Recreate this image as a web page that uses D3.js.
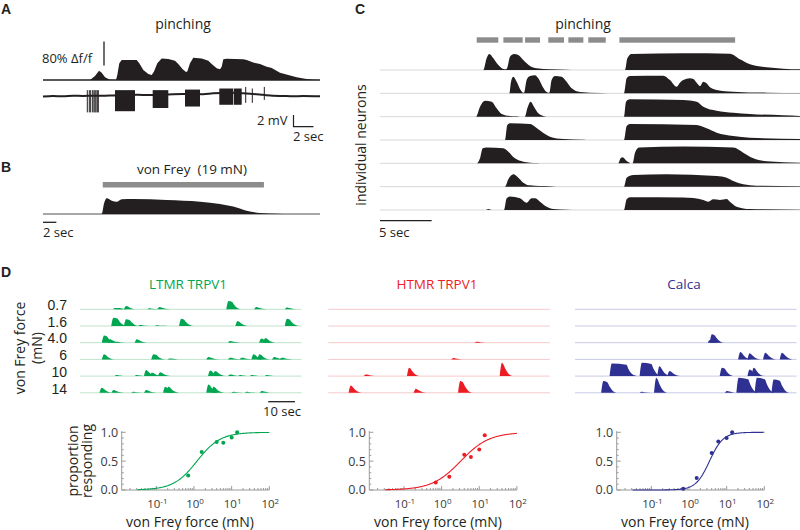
<!DOCTYPE html>
<html><head><meta charset="utf-8">
<script src="https://cdn.jsdelivr.net/npm/d3@7"></script>
<style>body{margin:0;background:#fff}svg text{font-family:'Open Sans',sans-serif;fill:#231f20}</style>
</head><body><svg id="c" width="800" height="530"></svg>
<script>
// ---------------- DATA ----------------
// Panel A: calcium trace [time s, %Δf/f]
const aCalcium = [[0,0],[4.7,0],[5.2,13],[5.6,31],[5.87,24],[6.2,9],[6.7,1],[7.3,0],[7.43,17],[7.63,56],[7.87,67],[9.37,67],[9.63,56],[10.03,33],[10.53,20],[10.87,17],[11.1,28],[11.43,56],[11.87,72],[12.53,70],[13.2,64],[13.53,53],[13.97,36],[14.3,27],[14.43,28],[14.7,56],[15.03,74],[15.87,72],[16.53,64],[16.87,53],[17.37,39],[17.7,36],[17.87,44],[18.03,69],[18.37,71],[20.03,69],[20.37,67],[21.03,58],[21.7,53],[22.37,44],[22.7,42],[22.87,40],[23.7,24],[24.53,17],[25.37,9],[26.2,4],[27.03,1],[27.7,0]];
// Panel A: membrane potential baseline [time s, mV]
const aVoltage = [[0,-0.1],[1,0],[2,-0.05],[3,0.05],[4,0],[5,0.05],[6,0.05],[7,0.1],[9.5,0.2],[10.5,0.15],[12,0.2],[13,0.3],[14,0.35],[16,0.3],[17,0.45],[19,0.55],[20,0.45],[21,0.35],[22,0.2],[23,0.05],[24,0],[25,-0.05],[26,0],[27.7,-0.05]];
// Panel A: spike bursts [start s, end s, top mV, bottom mV]
const aBursts = [[7.2,9.2,1.0,-2.6],[10.97,12.53,1.0,-2.05],[14.2,15.7,1.1,-1.8],[17.63,19.03,1.28,-1.5],[19.1,19.87,1.28,-1.5]];
// Panel A: single spikes [time s, top mV, bottom mV]
const aSpikes = [[4.43,1.0,-2.8],[4.63,1.0,-2.8],[4.77,1.0,-2.8],[4.97,1.0,-2.8],[5.1,1.0,-2.8],[5.2,1.0,-2.8],[5.3,1.0,-2.8],[5.43,1.0,-2.8],[5.53,1.0,-2.8],[20.27,1.55,-1.17],[20.93,1.28,-1.17],[22.13,1.55,-0.67]];

// Panel B: von Frey 19 mN response [time s, normalized]
const bTrace = [[0,0],[8.8,0],[9.15,0.68],[9.55,1.0],[10.3,0.85],[11.05,0.78],[11.8,0.94],[13.54,0.96],[18.55,0.89],[23.54,0.78],[26.5,0.64],[28.5,0.47],[30.5,0.21],[32.5,0.06],[35,0.02],[37,0],[41.5,0]];
const bStimulus = [8.95, 33.1];

// Panel C: pinching epochs [start s, end s]
const cStimuli = [[9.36,11.45],[11.94,13.81],[14.04,15.49],[16.29,17.81],[18.23,19.68],[20.16,21.85],[23.17,34.37]];
// Panel C: individual neuron traces [time s, normalized]
const cNeurons = [
 [[0,0],[10.0,0],[10.32,0.7],[10.58,0.96],[10.97,0.7],[11.45,0.3],[11.94,0.06],[12.19,0.04],[12.35,0.2],[12.58,0.8],[12.97,0.96],[13.39,0.9],[13.87,0.6],[14.52,0.24],[15.16,0.1],[16.45,0.04],[18.06,0.02],[19,0],[23.71,0],[23.94,0.7],[24.35,0.96],[29.35,1.0],[33.87,0.98],[34.84,0.64],[35.81,0.34],[37.42,0.16],[39.03,0.08],[40.65,0.04]],
 [[0,0],[12.52,0],[12.68,0.7],[12.9,1.0],[13.23,0.7],[13.61,0.2],[13.87,0.04],[13.94,0.04],[14.19,0.8],[14.52,1.04],[15.0,1.08],[15.32,0.9],[15.74,0.4],[16.13,0.08],[16.29,0.04],[16.39,0.04],[16.61,0.8],[16.94,1.04],[17.58,1.0],[18.06,0.7],[18.55,0.3],[19.35,0.08],[21.29,0.02],[22.9,0],[23.61,0],[23.87,0.9],[24.19,1.04],[27.42,1.06],[28.06,0.8],[28.71,0.4],[29.03,0.64],[29.35,0.8],[30.0,0.9],[30.32,0.86],[30.65,0.64],[30.97,0.44],[31.29,0.7],[31.61,0.6],[31.94,0.36],[32.58,0.2],[34.19,0.1],[37.42,0.04],[40.65,0.02]],
 [[0,0],[9.29,0],[9.68,0.6],[10.16,0.96],[10.81,0.9],[11.29,0.5],[11.77,0.16],[12.58,0.04],[13.23,0.02],[13.55,0],[14.03,0],[14.26,0.5],[14.58,0.9],[14.9,0.6],[15.32,0.2],[15.81,0.04],[16.13,0],[23.61,0],[23.81,0.9],[24.19,1.04],[29.35,1.0],[30.65,0.9],[31.29,0.6],[32.58,0.36],[34.19,0.24],[35.81,0.16],[39.03,0.08],[40.65,0.04]],
 [[0,0],[12.1,0],[12.32,0.9],[12.58,1.0],[14.52,0.96],[15.0,0.8],[15.65,0.5],[16.45,0.2],[17.74,0.06],[19.68,0.02],[20.32,0],[23.61,0],[23.87,0.84],[24.19,0.96],[30.65,0.9],[31.61,0.7],[32.58,0.44],[34.19,0.24],[35.81,0.14],[40.65,0.06]],
 [[0,0],[9.35,0],[9.68,0.3],[9.94,0.9],[10.32,0.94],[11.94,0.9],[12.42,0.7],[13.06,0.3],[13.87,0.1],[15.16,0.02],[15.81,0],[23.06,0],[23.29,0.3],[23.48,0.36],[23.87,0.14],[24.35,0],[24.45,0],[24.68,0.64],[25.1,0.94],[29.35,1.0],[34.19,0.94],[35.16,0.64],[36.13,0.3],[37.42,0.12],[40.65,0.04]],
 [[0,0],[12.1,0],[12.42,0.44],[12.9,0.74],[13.39,0.54],[13.87,0.24],[14.52,0.08],[16.45,0.02],[17.1,0],[23.61,0],[23.87,0.54],[24.52,0.7],[27.74,0.74],[32.58,0.64],[33.55,0.54],[34.19,0.34],[35.16,0.14],[36.45,0.06],[40.65,0.02]],
 [[0,0],[10.26,0],[10.48,0.06],[10.81,0],[12.0,0],[12.26,0.7],[12.58,0.8],[13.55,0.7],[14.19,0.44],[14.68,0.7],[15.0,0.7],[15.48,0.5],[16.13,0.2],[16.77,0.06],[18.06,0.02],[19.03,0],[23.61,0],[23.87,0.64],[24.19,0.76],[29.35,0.74],[31.29,0.6],[31.77,0.5],[32.26,0.64],[32.9,0.6],[33.55,0.66],[33.87,0.5],[34.52,0.2],[35.81,0.06],[40.65,0.02]]
];

// Panel D: von Frey forces (mN)
const forces = [0.7, 1.6, 4.0, 6, 10, 14];
const forceLabels = ["0.7", "1.6", "4.0", "6", "10", "14"];
const groups = ["LTMR TRPV1", "HTMR TRPV1", "Calca"];
// Panel D: response events per force row [peak time s, amplitude Δf/f, plateau s]
const ltmrEvents = [
 [[13.1,0.15],[14.4,0.15],[17.25,0.37],[26,0.11],[29.75,0.26],[55.6,0.93,0.8],[66,0.26],[77.5,0.19]],
 [[12.5,0.93,1],[17.25,0.74,0.8],[22.5,0.11],[28.75,0.07],[37.9,0.81,0.5],[59,0.56],[77.5,0.81,0.5]],
 [[9,0.81,0.5],[11.25,0.37],[13.75,0.11],[21.25,0.37],[56.25,0.19],[67.9,0.48],[69.4,0.52]],
 [[9,0.56],[27.5,0.56,0.5],[33.75,0.11],[48.1,0.26],[56.25,0.19],[60.6,0.19],[65,0.56],[67.25,0.56],[72.75,0.26],[75.6,0.19]],
 [[13.75,0.11],[21.25,0.11],[24.75,0.67],[26.9,0.37],[30,0.44],[48.75,0.63],[50.6,0.56],[56.25,0.19],[60,0.11],[64.4,0.11],[70,0.11]],
 [[8.1,0.56],[12.5,0.3],[20,0.11],[24.75,0.3],[31.9,0.67],[33.1,0.67],[48.1,0.93],[50,0.67],[57.5,0.11],[62.5,0.11],[68.1,0.19]]
];
const htmrEvents = [
 [], [], [[55.6,0.11]], [[46.9,0.15]],
 [[14.1,0.19],[30.25,0.93],[65,1.48]],
 [[8.4,0.81],[32.75,0.44],[49.4,1.3,0.5]]
];
const calcaEvents = [
 [], [], [[50.5,0.3],[51.25,0.93,0.5]],
 [[61.9,0.81],[65.4,0.67],[71.25,0.74],[77.5,0.74]],
 [[13.75,1.4,5],[20,0.37],[25,1.48,3.1],[31.6,1.1],[35.4,0.56],[55,0.93,0.5],[65.4,0.74],[66.9,0.93]],
 [[10.6,1.3,1],[25,0.11],[30.4,1.67],[56.9,0.19],[61.25,1.67,3.1],[68.1,1.67,2.5],[74.4,1.48,1.8]]
];
// Panel D: proportion responding per force
const ltmrProportion = [0.25, 0.66, 0.83, 0.82, 0.91, 1.0];
const htmrProportion = [0.13, 0.23, 0.61, 0.57, 0.70, 0.95];
const calcaProportion = [0.02, 0.21, 0.64, 0.84, 0.90, 1.0];
// Hill fits [EC50 mN, Hill coefficient]
const ltmrFit = [1.2, 1.4];
const htmrFit = [3.2, 1.15];
const calcaFit = [3.5, 2.4];
const xTickExps = [-1, 0, 1, 2];
const yTicks = [0, 0.5, 1];

// ---------------- DRAWING ----------------
const svg = d3.select('#c');
const INK = '#231f20';
const GRAYBAR = '#8c8c8c';
const txt = (x, y, s, o = {}) => svg.append('text').attr('x', x).attr('y', y)
  .attr('font-size', o.size || 14).attr('font-weight', o.bold ? 700 : 400)
  .attr('text-anchor', o.anchor || 'start').style('fill', o.color || INK)
  .style('font-family', o.family || null).text(s);
const LETTER = {bold: true, size: 14, family: "'Liberation Sans', Arial, sans-serif"};

// ---- Panel A ----
txt(1, 13.5, 'A', LETTER);
txt(183, 29, 'pinching', {anchor: 'middle'});
const xA = d3.scaleLinear().domain([0, 27.7]).range([43, 320]);
const yCa = d3.scaleLinear().domain([0, 80]).range([80, 56]);
const yV = d3.scaleLinear().domain([0, 2]).range([96, 84.3]);
svg.append('path').datum(aCalcium)
  .attr('d', d3.area().x(d => xA(d[0])).y0(yCa(0)).y1(d => yCa(d[1])))
  .attr('fill', INK);
svg.append('line').attr('x1', xA(0)).attr('x2', xA(27.7)).attr('y1', yCa(0)).attr('y2', yCa(0))
  .attr('stroke', INK).attr('stroke-width', 1.6);
// 80% scale bar
svg.append('line').attr('x1', 104).attr('x2', 104).attr('y1', 65.5).attr('y2', 65.5 - (yCa(0) - yCa(80)))
  .attr('stroke', INK).attr('stroke-width', 1.3);
txt(42, 63, '80% Δf/f', {size: 13});
// voltage
svg.append('path').datum(aVoltage)
  .attr('d', d3.line().x(d => xA(d[0])).y(d => yV(d[1])).curve(d3.curveMonotoneX))
  .attr('fill', 'none').attr('stroke', INK).attr('stroke-width', 2);
svg.selectAll('.burst').data(aBursts).enter().append('rect')
  .attr('x', d => xA(d[0])).attr('width', d => xA(d[1]) - xA(d[0]))
  .attr('y', d => yV(d[2])).attr('height', d => yV(d[3]) - yV(d[2])).attr('fill', INK);
svg.selectAll('.spk').data(aSpikes).enter().append('line')
  .attr('x1', d => xA(d[0])).attr('x2', d => xA(d[0]))
  .attr('y1', d => yV(d[1])).attr('y2', d => yV(d[2])).attr('stroke', INK).attr('stroke-width', 1);
// scale bar 2 mV / 2 sec
{
  const bx = 293.5, by = 126.7;
  svg.append('path').attr('d', `M${bx},${by - (yV(0) - yV(2))}V${by}H${bx + xA(2) - xA(0)}`)
    .attr('fill', 'none').attr('stroke', INK).attr('stroke-width', 1.2);
  txt(257, 125, '2 mV', {size: 13});
  txt(293, 141, '2 sec', {size: 13});
}

// ---- Panel B ----
txt(1, 172, 'B', LETTER);
txt(192, 174, 'von Frey\u00a0 (19 mN)', {anchor: 'middle', size: 13.5});
const xB = d3.scaleLinear().domain([0, 41.5]).range([43, 320]);
const yB = d3.scaleLinear().domain([0, 1]).range([214, 198.3]);
svg.append('rect').attr('x', xB(bStimulus[0])).attr('width', xB(bStimulus[1]) - xB(bStimulus[0]))
  .attr('y', 182).attr('height', 5.5).attr('fill', GRAYBAR);
svg.append('path').datum(bTrace)
  .attr('d', d3.area().x(d => xB(d[0])).y0(yB(0)).y1(d => yB(d[1])).curve(d3.curveMonotoneX))
  .attr('fill', INK);
svg.append('line').attr('x1', xB(0)).attr('x2', xB(41.5)).attr('y1', yB(0)).attr('y2', yB(0))
  .attr('stroke', INK).attr('stroke-width', 0.8);
svg.append('line').attr('x1', xB(0)).attr('x2', xB(2)).attr('y1', 222.3).attr('y2', 222.3)
  .attr('stroke', INK).attr('stroke-width', 1.3);
txt(43, 237, '2 sec', {size: 13});

// ---- Panel C ----
txt(355, 13.5, 'C', LETTER);
txt(583, 29, 'pinching', {anchor: 'middle'});
const xC = d3.scaleLinear().domain([0, 40.65]).range([380, 800]);
svg.selectAll('.cstim').data(cStimuli).enter().append('rect')
  .attr('x', d => xC(d[0])).attr('width', d => xC(d[1]) - xC(d[0]))
  .attr('y', 37.3).attr('height', 5.4).attr('fill', GRAYBAR);
cNeurons.forEach((trace, i) => {
  const base = 70 + i * 23.33;
  const yC = d3.scaleLinear().domain([0, 1]).range([base, base - 16.7]);
  svg.append('line').attr('x1', xC(0)).attr('x2', xC(40.65)).attr('y1', base).attr('y2', base)
    .attr('stroke', '#d8d8d8').attr('stroke-width', 1);
  svg.append('path').datum(trace)
    .attr('d', d3.area().x(d => xC(d[0])).y0(yC(0)).y1(d => yC(d[1])).curve(d3.curveMonotoneX))
    .attr('fill', INK);
});
svg.append('text').attr('transform', 'translate(366,145) rotate(-90)').attr('text-anchor', 'middle')
  .attr('font-size', 14).text('individual neurons');
svg.append('line').attr('x1', xC(0)).attr('x2', xC(5)).attr('y1', 220.7).attr('y2', 220.7)
  .attr('stroke', INK).attr('stroke-width', 1.3);
txt(379, 237, '5 sec', {size: 13});

// ---- Panel D traces ----
txt(1, 277, 'D', LETTER);
const dColors = ['#00a651', '#ed1c24', '#2e3192'];
const dBaseColors = ['#bfe3cc', '#f6c9cb', '#c9cae6'];
const dStarts = [80, 328.3, 575];
const dCenters = [188, 437, 684];
const dEvents = [ltmrEvents, htmrEvents, calcaEvents];
groups.forEach((g, k) => txt(dCenters[k], 289, g, {anchor: 'middle', color: dColors[k], size: 13.5}));
forceLabels.forEach((f, i) => txt(67, 310 + i * 16.7, f, {anchor: 'end', size: 14, family: "'Liberation Sans', Arial, sans-serif"}));
svg.append('text').attr('transform', 'translate(25,348) rotate(-90)').attr('text-anchor', 'middle')
  .attr('font-size', 14).text('von Frey force');
svg.append('text').attr('transform', 'translate(42,348) rotate(-90)').attr('text-anchor', 'middle')
  .attr('font-size', 14).text('(mN)');
const peakArea = d3.area().curve(d3.curveMonotoneX);
dEvents.forEach((rows, k) => {
  const xD = d3.scaleLinear().domain([0, 83]).range([dStarts[k], dStarts[k] + 221.6]);
  rows.forEach((evs, i) => {
    const base = 309.3 + i * 16.7;
    const yD = d3.scaleLinear().domain([0, 1]).range([base, base - 9]);
    svg.append('line').attr('x1', xD(0)).attr('x2', xD(83)).attr('y1', base).attr('y2', base)
      .attr('stroke', dBaseColors[k]).attr('stroke-width', 1);
    evs.forEach(e => {
      const [t, a, p = 0] = e;
      const pts = [[t - 0.8, 0], [t - 0.3, a * 0.8], [t, a], [t + p + 0.5, a * 0.9], [t + p + 1.3, a * 0.55], [t + p + 2.4, a * 0.2], [t + p + 4, 0]];
      svg.append('path').datum(pts)
        .attr('d', peakArea.x(d => xD(d[0])).y0(yD(0)).y1(d => yD(d[1])))
        .attr('fill', dColors[k]);
    });
  });
  if (k === 0) {
    svg.append('line').attr('x1', xD(70.5)).attr('x2', xD(80.5)).attr('y1', 401.7).attr('y2', 401.7)
      .attr('stroke', INK).attr('stroke-width', 1.3);
    txt(263, 416, '10 sec', {size: 13});
  }
});

// ---- Panel D dose-response ----
const fitAxes = [121.7, 369.3, 616.7];
const props = [ltmrProportion, htmrProportion, calcaProportion];
const fits = [ltmrFit, htmrFit, calcaFit];
const yP = d3.scaleLinear().domain([0, 1]).range([490, 432.3]);
props.forEach((vals, k) => {
  const x0 = fitAxes[k];
  const xP = d3.scaleLog().domain([0.012, 100]).range([x0, x0 + 147.6]);
  const g = svg.append('g');
  g.append('line').attr('x1', x0).attr('x2', x0).attr('y1', yP(0)).attr('y2', yP(1.02)).attr('stroke', '#9a9a9a');
  g.append('line').attr('x1', x0).attr('x2', xP(100)).attr('y1', yP(0)).attr('y2', yP(0)).attr('stroke', '#9a9a9a');
  d3.range(0, 1.01, 0.1).forEach(v => {
    const major = yTicks.some(t => Math.abs(t - v) < 1e-6);
    g.append('line').attr('x1', x0).attr('x2', x0 + (major ? 4 : 2)).attr('y1', yP(v)).attr('y2', yP(v)).attr('stroke', '#9a9a9a');
  });
  yTicks.forEach(v => g.append('text').attr('x', x0 - 3.5).attr('y', yP(v)).attr('dy', '0.35em')
    .attr('text-anchor', 'end').attr('font-size', 12.5).style('fill', '#3a3a3a').text(v.toFixed(1)));
  const minor = [];
  for (let e = -2; e < 2; e++) for (let m = 1; m < 10; m++) { const v = m * Math.pow(10, e); if (v >= 0.012) minor.push([v, m === 1]); }
  minor.push([100, true]);
  minor.forEach(([v, maj]) => g.append('line').attr('x1', xP(v)).attr('x2', xP(v))
    .attr('y1', yP(0)).attr('y2', yP(0) - (maj ? 4 : 2)).attr('stroke', '#9a9a9a'));
  xTickExps.forEach(e => {
    const t = g.append('text').attr('x', xP(Math.pow(10, e)) + 1).attr('y', 508).attr('text-anchor', 'middle')
      .attr('font-size', 11.5).style('fill', '#3a3a3a');
    t.append('tspan').text('10');
    t.append('tspan').attr('dy', -4.5).attr('font-size', 8).text(String(e));
  });
  g.append('text').attr('x', [190, 438, 685][k]).attr('y', 527).attr('text-anchor', 'middle')
    .attr('font-size', 14).text('von Frey force (mN)');
  const [ec50, n] = fits[k];
  const xs = d3.range(-1.5, 2.001, 0.02).map(l => Math.pow(10, l));
  g.append('path').datum(xs)
    .attr('d', d3.line().x(x => xP(x)).y(x => yP(1 / (1 + Math.pow(ec50 / x, n)))))
    .attr('fill', 'none').attr('stroke', dColors[k]).attr('stroke-width', 1.1);
  g.selectAll('circle').data(vals).enter().append('circle')
    .attr('cx', (d, i) => xP(forces[i])).attr('cy', d => yP(d)).attr('r', 2).attr('fill', dColors[k]);
});
svg.append('text').attr('transform', 'translate(78,461) rotate(-90)').attr('text-anchor', 'middle')
  .attr('font-size', 14).text('proportion');
svg.append('text').attr('transform', 'translate(92,461) rotate(-90)').attr('text-anchor', 'middle')
  .attr('font-size', 14).text('responding');
</script></body></html>
